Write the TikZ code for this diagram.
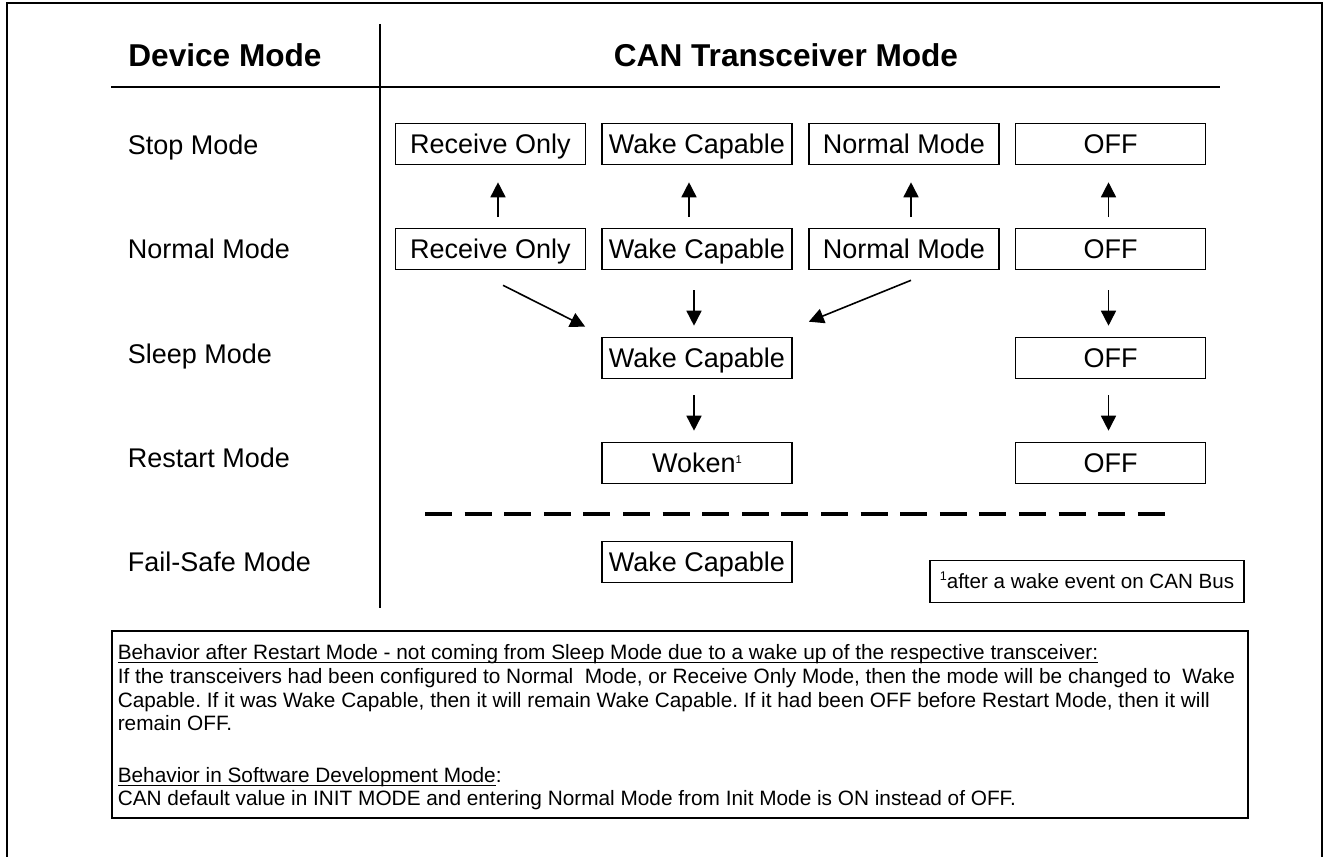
\documentclass[tikz,border=0pt]{standalone}
\usepackage{fontspec}
\setmainfont{Liberation Sans}
\usetikzlibrary{arrows.meta}

\newcommand{\noteul}[1]{\underline{\smash{#1}}\vphantom{Bh}}

\begin{document}
\begin{tikzpicture}[x=0.5pt, y=-0.5pt, line width=0.8pt,
        modebox/.style={draw, minimum width=95pt, minimum height=20.5pt, inner sep=0pt,
            text height=9.7pt, text depth=0pt, font=\fontsize{13.5}{16}\selectfont},
        rowlabel/.style={anchor=west, inner sep=0pt, text height=9.7pt, text depth=0pt,
            font=\fontsize{13.5}{16}\selectfont},
        heading/.style={inner sep=0pt, text height=11.3pt, text depth=0pt,
            font=\fontsize{15.8}{19}\selectfont\bfseries},
        arr/.style={-{Triangle[length=7.5pt,width=7.5pt]}},
        uparr/.style={arr, shorten <=5.25pt, shorten >=8.5pt},
        dnarr/.style={arr, shorten <=10pt, shorten >=5.5pt}]
    \useasboundingbox (0,0) rectangle (1332,856);
    \frenchspacing

    % frame and table lines
    \draw (7,860) -- (7,3) -- (1322,3) -- (1322,860);
    \draw (111,87) -- (1220,87);
    \draw (380,24) -- (380,608);

    \node[heading] (hdev) at (225,55) {Device Mode};
    \node[heading] (hcan) at (786,55) {CAN Transceiver Mode};

    \node[rowlabel] (lstop) at (127,145) {Stop Mode};
    \node[rowlabel] (lnorm) at (127,249) {Normal Mode};
    \node[rowlabel] (lsleep) at (127,354) {Sleep Mode};
    \node[rowlabel] (lrest) at (127,458) {Restart Mode};
    \node[rowlabel] (lfail) at (127,562) {Fail-Safe Mode};

    % stop mode
    \node[modebox] (ro1) at (490.5,144) {Receive Only};
    \node[modebox] (wc1) at (697,144) {Wake Capable};
    \node[modebox] (nm1) at (904,144) {Normal Mode};
    \node[modebox] (off1) at (1110.5,144) {OFF};

    % normal mode
    \node[modebox] (ro2) at (490.5,249) {Receive Only};
    \node[modebox] (wc2) at (697,249) {Wake Capable};
    \node[modebox] (nm2) at (904,249) {Normal Mode};
    \node[modebox] (off2) at (1110.5,249) {OFF};

    % sleep, restart, fail-safe
    \node[modebox] (wc3) at (697,358) {Wake Capable};
    \node[modebox] (off3) at (1110.5,358) {OFF};
    \node[modebox] (wk4) at (697,463) {Woken\raisebox{4.5pt}{\fontsize{5.6}{6}\selectfont 1}};
    \node[modebox] (off4) at (1110.5,463) {OFF};
    \node[modebox] (wc5) at (697,562) {Wake Capable};

    \draw[uparr] ([xshift=3.75pt]ro2.north) -- ([xshift=3.75pt]ro1.south);
    \draw[uparr] ([xshift=-4pt]wc2.north) -- ([xshift=-4pt]wc1.south);
    \draw[uparr] ([xshift=3.5pt]nm2.north) -- ([xshift=3.5pt]nm1.south);
    \draw[uparr] ([xshift=-1pt]off2.north) -- ([xshift=-1pt]off1.south);

    \draw[arr] ([xshift=6.25pt,yshift=-7.5pt]ro2.south) -- ([xshift=-8pt,yshift=5pt]wc3.north west);
    \draw[dnarr] ([xshift=-1.5pt]wc2.south) -- ([xshift=-1.5pt]wc3.north);
    \draw[arr] ([xshift=3.5pt,yshift=-5pt]nm2.south) -- ([xshift=8pt,yshift=7.5pt]wc3.north east);
    \draw[dnarr] ([xshift=-1pt]off2.south) -- ([xshift=-1pt]off3.north);

    \draw[dnarr, shorten <=8pt] ([xshift=-1.5pt]wc3.south) -- ([xshift=-1.5pt]wk4.north);
    \draw[dnarr, shorten <=8pt] ([xshift=-1pt]off3.south) -- ([xshift=-1pt]off4.north);

    \draw[line width=1.6pt, dash pattern=on 13.5pt off 6.3pt] (425,514) -- (1165,514);

    \node[draw, minimum width=157pt, minimum height=21pt, inner sep=0pt, text height=7.4pt, text depth=0pt,
        font=\fontsize{10.3}{12}\selectfont] (fnote) at (1087,581.5)
        {\raisebox{4pt}{\fontsize{6.3}{7}\selectfont 1}after a wake event on CAN Bus};

    % behaviour notes
    \node[draw, anchor=north west, minimum width=568pt, minimum height=93.5pt, inner sep=0pt] (notebox) at (111,630) {};
    \node[anchor=north west, inner sep=0pt, align=left, font=\fontsize{10.4}{11.8}\selectfont] (notetext)
        at ([xshift=3pt,yshift=-7pt]notebox.north west)
        {\noteul{Behavior after Restart Mode - not coming from Sleep Mode due to a wake up of the respective transceiver:}\\
         If the transceivers had been configured to Normal\ \ Mode, or Receive Only Mode, then the mode will be changed to\ \ Wake\\
         Capable. If it was Wake Capable, then it will remain Wake Capable. If it had been OFF before Restart Mode, then it will\\
         remain OFF.\\[14pt]
         \noteul{Behavior in Software Development Mode}:\\
         CAN default value in INIT MODE and entering Normal Mode from Init Mode is ON instead of OFF.};
\end{tikzpicture}
\end{document}
